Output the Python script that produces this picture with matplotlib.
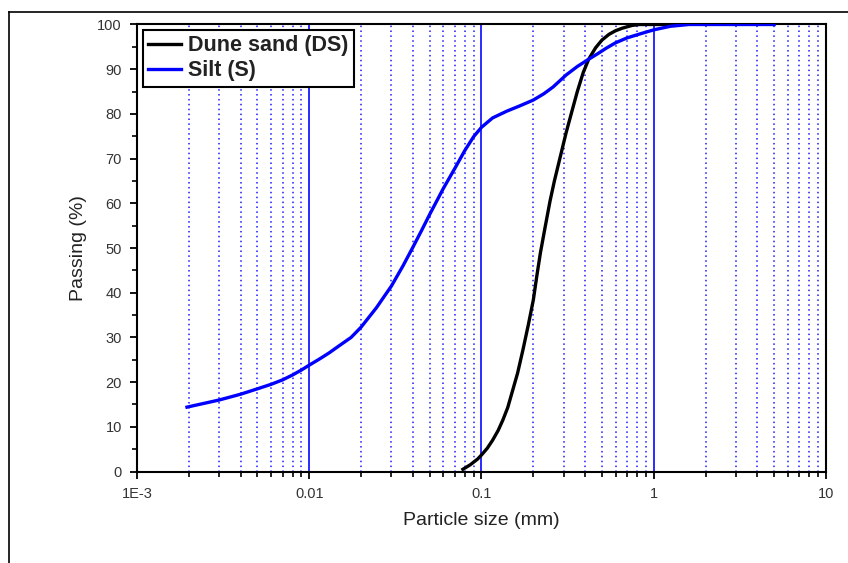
import numpy as np
import matplotlib
matplotlib.use("Agg")
import matplotlib.pyplot as plt
from matplotlib.ticker import FixedLocator, MultipleLocator, NullFormatter
from matplotlib.lines import Line2D

plt.rcParams['font.family'] = ['Liberation Sans', 'DejaVu Sans']

# Grain size distribution: particle size (mm) vs. percent passing
silt_size = [0.00195, 0.003, 0.004, 0.005, 0.006, 0.007, 0.008, 0.009, 0.010,
             0.0115, 0.013, 0.015, 0.0175, 0.020, 0.0245, 0.030, 0.035, 0.040,
             0.045, 0.050, 0.060, 0.070, 0.080, 0.090, 0.100, 0.116, 0.140,
             0.167, 0.200, 0.230, 0.260, 0.310, 0.360, 0.410, 0.470, 0.530,
             0.600, 0.700, 0.850, 1.00, 1.25, 1.60, 5.0]
silt_pass = [14.4, 16.0, 17.3, 18.5, 19.5, 20.5, 21.6, 22.7, 23.8,
             25.2, 26.5, 28.2, 30.0, 32.3, 36.6, 41.5, 46.0, 50.2,
             54.0, 57.5, 63.3, 67.8, 71.8, 74.9, 77.0, 79.1, 80.6,
             81.8, 83.1, 84.5, 86.0, 88.7, 90.6, 92.0, 93.4, 94.7,
             95.9, 97.0, 98.0, 98.8, 99.6, 100.0, 100.0]

sand_size = [0.078, 0.086, 0.095, 0.100, 0.108, 0.116, 0.125, 0.133, 0.142,
             0.150, 0.162, 0.174, 0.187, 0.200, 0.210, 0.220, 0.235, 0.250,
             0.265, 0.290, 0.310, 0.340, 0.360, 0.390, 0.420, 0.460, 0.500,
             0.550, 0.600, 0.660, 0.750, 0.830, 1.00, 1.20]
sand_pass = [0.5, 1.5, 2.8, 3.7, 5.2, 7.0, 9.2, 11.5, 14.3,
             17.5, 22.0, 27.2, 32.8, 38.4, 44.0, 49.0, 55.0, 60.5,
             65.0, 71.2, 75.8, 81.5, 85.0, 89.3, 92.3, 94.8, 96.5,
             97.8, 98.6, 99.2, 99.8, 100.0, 100.0, 100.0]

x_ticks = [1e-3, 1e-2, 1e-1, 1, 10]
x_tick_labels = ["1E-3", "0.01", "0.1", "1", "10"]
major_grid = [0.01, 0.1, 1]

fig = plt.figure(figsize=(8.48, 5.63), dpi=100)
ax = fig.add_axes([0.1616, 0.1625, 0.974 - 0.1616, 0.9565 - 0.1625])

ax.set_xscale('log')
ax.set_xlim(1e-3, 10)
ax.set_ylim(0, 100)

# vertical grid: dotted minor lines, solid major lines
minor_x = [m * 10.0 ** e for e in range(-3, 1) for m in range(2, 10)]
for xv in minor_x:
    ax.axvline(xv, color='#1a1aff', lw=1.1, ls=(0, (1, 2.2)), zorder=1)
for xv in major_grid:
    ax.axvline(xv, color='#2a2aff', lw=1.4, zorder=1)

ax.plot(sand_size, sand_pass, color='black', lw=2.4, zorder=3,
        label='Dune sand (DS)', solid_joinstyle='round')
ax.plot(silt_size, silt_pass, color='#0000ff', lw=2.4, zorder=3,
        label='Silt (S)', solid_joinstyle='round')

ax.xaxis.set_major_locator(FixedLocator(x_ticks))
ax.set_xticklabels(x_tick_labels)
ax.xaxis.set_minor_locator(FixedLocator(minor_x))
ax.xaxis.set_minor_formatter(NullFormatter())
ax.yaxis.set_major_locator(MultipleLocator(10))
ax.yaxis.set_minor_locator(MultipleLocator(5))

ax.tick_params(axis='both', which='major', direction='out', length=5, width=1.3,
               labelsize=10.5, colors='black', labelcolor='#333333')
ax.tick_params(axis='both', which='minor', direction='out', length=3.5, width=1.2)
ax.tick_params(axis='x', pad=6)
ax.tick_params(axis='y', pad=6)

for sp in ax.spines.values():
    sp.set_linewidth(1.5)

ax.set_xlabel('Particle size (mm)', fontsize=14, color='#222222', labelpad=8)
ax.set_ylabel('Passing (%)', fontsize=14, color='#222222', labelpad=7)

leg = ax.legend(loc='upper left', bbox_to_anchor=(0.002, 0.998),
                frameon=True, fancybox=False, edgecolor='black', framealpha=1,
                handlelength=1.55, handletextpad=0.3, borderpad=0.25,
                labelspacing=0.2, borderaxespad=0.2,
                prop={'weight': 'bold', 'size': 15.5})
leg.get_frame().set_linewidth(1.5)
leg.set_zorder(5)
for t in leg.get_texts():
    t.set_color('#222222')

# outer border lines on the left and top of the figure
fig.add_artist(Line2D([9 / 848, 9 / 848], [0, 1 - 12 / 563], color='black',
                      lw=1.2, transform=fig.transFigure))
fig.add_artist(Line2D([9 / 848, 1], [1 - 12 / 563, 1 - 12 / 563], color='black',
                      lw=1.2, transform=fig.transFigure))

fig.savefig('out.png', dpi=100)
